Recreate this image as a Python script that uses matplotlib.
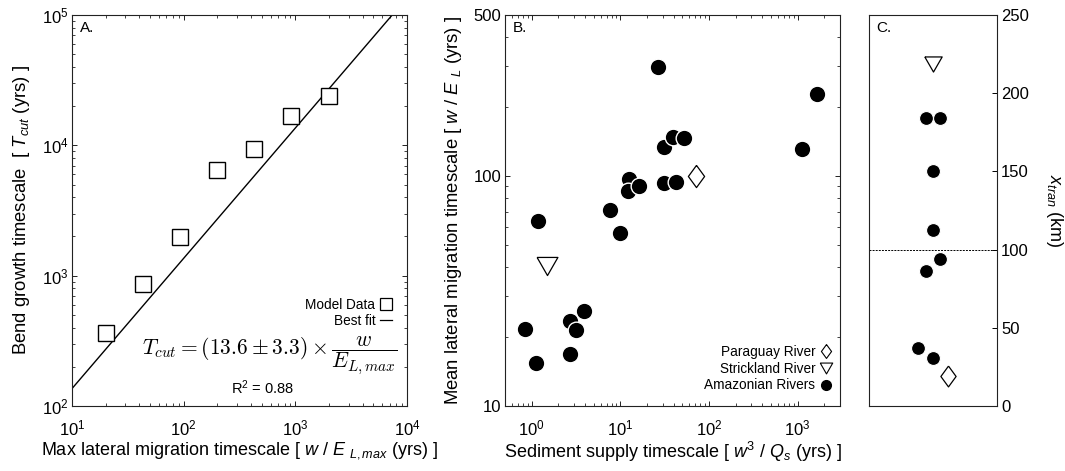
import numpy as np
import matplotlib
matplotlib.use("Agg")
import matplotlib.pyplot as plt
from matplotlib.lines import Line2D

plt.rcParams['font.family'] = ['Liberation Sans', 'DejaVu Sans']
plt.rcParams['mathtext.fontset'] = 'custom'
plt.rcParams['mathtext.rm'] = 'Liberation Sans'
plt.rcParams['mathtext.it'] = 'Liberation Sans:italic'
plt.rcParams['mathtext.bf'] = 'Liberation Sans:bold'
plt.rcParams['axes.linewidth'] = 0.8
plt.rcParams['axes.edgecolor'] = '#222222'

# ---------------- data ----------------
# Panel A: model data
model_x = [20, 43, 92, 199, 426, 918, 1985]
model_y = [365, 860, 1975, 6520, 9380, 16800, 23900]
fit_coef = 13.6
fit_x = [10, 7350]

# Panel B: field data
amazon_x = [26.4, 1652, 1110, 30.8, 39.6, 52.7, 30.8, 42.4, 12.6, 12.1, 16.4,
            7.65, 9.83, 1.17, 0.83, 1.12, 2.73, 2.71, 3.16, 3.89]
amazon_y = [296, 228, 130.6, 134, 148, 146, 93.5, 94, 97, 86.3, 90.8,
            71.1, 56.4, 64, 21.6, 15.4, 16.9, 23.3, 21.4, 25.9]
strick_x = [1.49]
strick_y = [40.7]
paraguay_x = [72]
paraguay_y = [100]

# Panel C: x_tran (km)
c_amazon_pos = [0.445, 0.555, 0.497, 0.497, 0.555, 0.442, 0.385, 0.497]
c_amazon_y = [184, 184, 150, 112.5, 93.8, 86.5, 37.3, 30.9]
c_strick_pos = [0.503]
c_strick_y = [219]
c_paraguay_pos = [0.613]
c_paraguay_y = [19.2]
c_threshold = 100

# ---------------- markers ----------------
diamond = [(0, 1), (0.73, 0), (0, -1), (-0.73, 0), (0, 1)]
tri = [(-1, 0.87), (1, 0.87), (0, -0.87), (-1, 0.87)]

TICK_FS = 12
XLAB_FS = 13
YLAB_FS = 13.3

fig = plt.figure(figsize=(10.65, 4.71), dpi=100)
bot, hgt = 0.138, 0.830
axA = fig.add_axes([0.0676, bot, 0.3146, hgt])
axB = fig.add_axes([0.4742, bot, 0.3146, hgt])
axC = fig.add_axes([0.816, bot, 0.1202, hgt])

def style_log(ax):
    ax.tick_params(which='both', direction='in', top=True, right=True,
                   labelsize=TICK_FS, colors='#222222', labelcolor='black')
    ax.tick_params(axis='x', which='both', pad=9)
    ax.tick_params(axis='y', which='both', pad=2.5)
    ax.tick_params(which='major', length=3.5, width=0.7)
    ax.tick_params(which='minor', length=2, width=0.6)

# ---------------- Panel A ----------------
axA.set_xscale('log'); axA.set_yscale('log')
axA.set_xlim(10, 1e4); axA.set_ylim(1e2, 1e5)
fx = np.array(fit_x, dtype=float)
axA.plot(fx, fit_coef * fx, color='black', lw=1.0, zorder=2)
axA.plot(model_x, model_y, ls='none', marker='s', ms=12, mfc='white',
         mec='black', mew=1.0, zorder=3)
style_log(axA)
axA.set_xlabel(r"Max lateral migration timescale [ $w$ / $E$ $_{L,max}$ (yrs) ]",
               fontsize=XLAB_FS, labelpad=1)
axA.set_ylabel(r"Bend growth timescale  [ $T_{cut}$ (yrs) ]", fontsize=YLAB_FS, labelpad=7)
axA.text(0.024, 0.985, "A.", transform=axA.transAxes, ha='left', va='top', fontsize=11)
hA = [Line2D([], [], ls='none', marker='s', ms=8, mfc='white', mec='black', mew=0.9),
      Line2D([], [], color='black', lw=0.9)]
axA.legend(hA, ["Model Data", "Best fit"], loc='upper right', bbox_to_anchor=(0.956, 0.276),
           frameon=False, markerfirst=False, fontsize=9.8, handlelength=0.9,
           handletextpad=0.35, labelspacing=0.15, borderpad=0, borderaxespad=0)
axA.text(0.972, 0.128, r"$T_{cut} = (13.6 \pm 3.3) \times \dfrac{w}{E_{L,max}}$",
         transform=axA.transAxes, ha='right', va='center', fontsize=15.5,
         math_fontfamily='cm')
axA.text(0.569, 0.046, r"R$^2$ = 0.88", transform=axA.transAxes, ha='center',
         va='center', fontsize=10.5)

# ---------------- Panel B ----------------
axB.set_xscale('log'); axB.set_yscale('log')
axB.set_xlim(0.5, 3000); axB.set_ylim(10, 500)
axB.plot(amazon_x, amazon_y, ls='none', marker='o', ms=12, mfc='black',
         mec='white', mew=1.0, zorder=3)
axB.plot(strick_x, strick_y, ls='none', marker=tri, ms=15, mfc='white',
         mec='black', mew=0.9, zorder=3)
axB.plot(paraguay_x, paraguay_y, ls='none', marker=diamond, ms=16, mfc='white',
         mec='black', mew=0.9, zorder=3)
style_log(axB)
axB.set_yticks([10, 100, 500])
axB.set_yticklabels(["10", "100", "500"])
axB.set_xlabel(r"Sediment supply timescale [ $w^3$ / $Q_s$ (yrs) ]", fontsize=XLAB_FS,
               labelpad=1)
axB.set_ylabel(r"Mean lateral migration timescale [ $w$ / $E$ $_L$ (yrs) ]",
               fontsize=YLAB_FS, labelpad=7)
axB.text(0.024, 0.985, "B.", transform=axB.transAxes, ha='left', va='top', fontsize=11)
hB = [Line2D([], [], ls='none', marker=diamond, ms=10, mfc='white', mec='black', mew=0.8),
      Line2D([], [], ls='none', marker=tri, ms=9, mfc='white', mec='black', mew=0.8),
      Line2D([], [], ls='none', marker='o', ms=7, mfc='black', mec='black')]
axB.legend(hB, ["Paraguay River", "Strickland River", "Amazonian Rivers"],
           loc='lower right', bbox_to_anchor=(0.975, 0.035), frameon=False,
           markerfirst=False, fontsize=9.8, handlelength=0.9, handletextpad=0.3,
           labelspacing=0.2, borderpad=0, borderaxespad=0)

# ---------------- Panel C ----------------
axC.set_xlim(0, 1); axC.set_ylim(0, 250)
axC.axhline(c_threshold, color='black', lw=0.7, ls=(0, (2, 1.2)), zorder=1)
axC.plot(c_amazon_pos, c_amazon_y, ls='none', marker='o', ms=10, mfc='black',
         mec='white', mew=0.8, zorder=3)
axC.plot(c_strick_pos, c_strick_y, ls='none', marker=tri, ms=12.5, mfc='white',
         mec='black', mew=0.9, zorder=3)
axC.plot(c_paraguay_pos, c_paraguay_y, ls='none', marker=diamond, ms=15, mfc='white',
         mec='black', mew=0.9, zorder=3)
axC.set_xticks([])
axC.yaxis.tick_right()
axC.yaxis.set_label_position('right')
axC.set_yticks([0, 50, 100, 150, 200, 250])
axC.tick_params(axis='y', direction='in', length=3.5, width=0.7, labelsize=TICK_FS, pad=3,
                left=False, right=True)
axC.set_ylabel(r"$x_{tran}$ (km)", fontsize=13, rotation=270, labelpad=26)
axC.text(0.06, 0.985, "C.", transform=axC.transAxes, ha='left', va='top', fontsize=11)

fig.savefig("out.png", dpi=100)
